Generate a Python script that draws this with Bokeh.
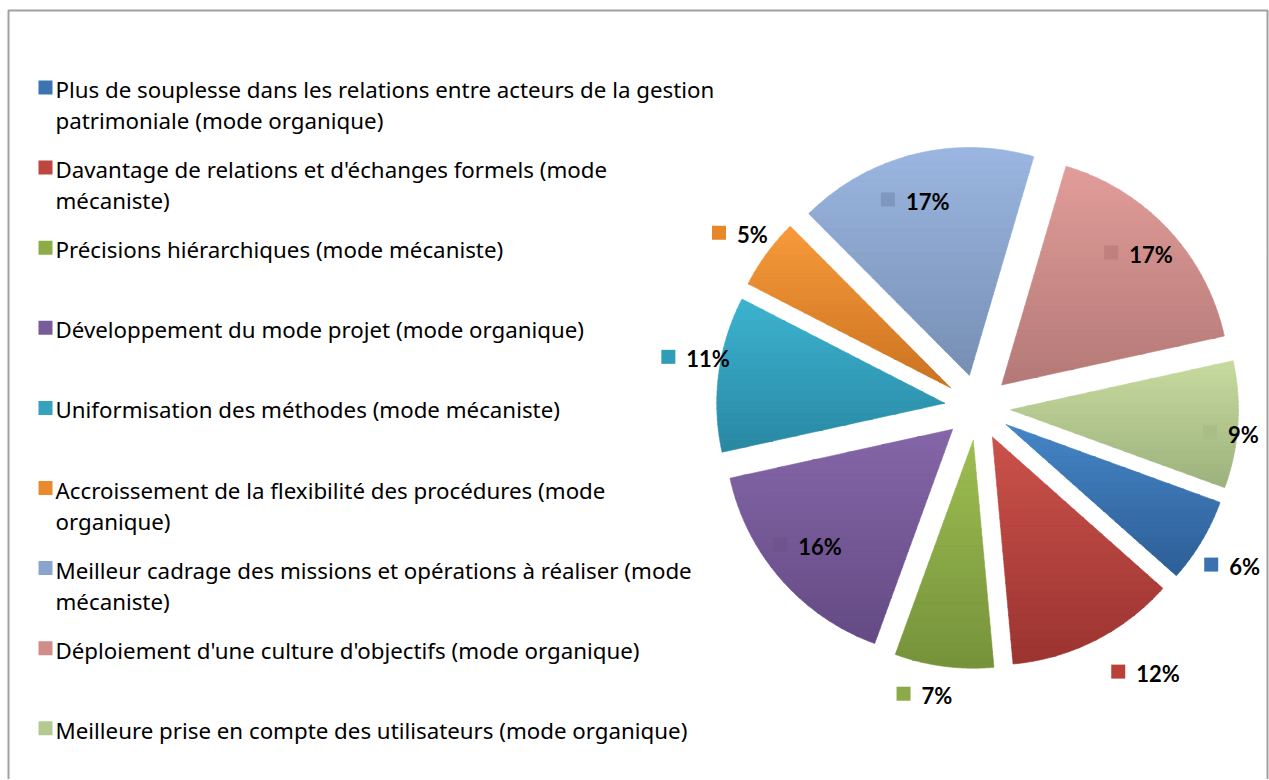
import math
from bokeh.plotting import figure
from bokeh.models import Range1d
from bokeh.core.properties import value
from bokeh.embed import file_html
from bokeh.resources import INLINE

# ---------------- data ----------------
categories = [
    "Plus de souplesse dans les relations entre acteurs de la gestion\npatrimoniale (mode organique)",
    "Davantage de relations et d'échanges formels (mode\nmécaniste)",
    "Précisions hiérarchiques (mode mécaniste)",
    "Développement du mode projet (mode organique)",
    "Uniformisation des méthodes (mode mécaniste)",
    "Accroissement de la flexibilité des procédures (mode\norganique)",
    "Meilleur cadrage des missions et opérations à réaliser (mode\nmécaniste)",
    "Déploiement d'une culture d'objectifs (mode organique)",
    "Meilleure prise en compte des utilisateurs (mode organique)",
]
values = [6, 12, 7, 16, 11, 5, 17, 17, 9]

# ---------------- styles ----------------
top_colors = ["#4585c6", "#cb524b", "#9ebe52", "#8567a9", "#3cb3d0",
              "#f89a3b", "#9bb6e1", "#e19d99", "#c7db9f"]
bottom_colors = ["#2d5e96", "#9b3330", "#75923a", "#644a84", "#2988a3",
                 "#cb7321", "#778fb4", "#b47977", "#9db17d"]
legend_colors = ["#3c74b2", "#bd4640", "#8dac48", "#785b99", "#35a2bf",
                 "#e98a2e", "#8aa4cd", "#cf8c89", "#b4c98f"]
marker_colors = ["#3a72b0", "#b94039", "#8daa48", "#6e548e", "#2f9cb8",
                 "#e6882a", "#7f97bd", "#bf807e", "#a9bd86"]

W, H = 1269, 779
def dx(x):  # page x -> data x
    return x
def dy(y):  # page y -> data y
    return H - y

CX, CY = dx(977), dy(407)
R = 228
EXPLODE = 33
FIRST_BEARING = 110.0
BANDS = 28
label_dist = [300, 314, 292, 219, 286, 294, 216, 223, 255]
label_rot = [1, -5.6, 3, 2, 2.6, 0, -2.5, -0.7, 2]


def hex_to_rgb(h):
    h = h.lstrip("#")
    return tuple(int(h[k:k + 2], 16) for k in (0, 2, 4))


def mix(c1, c2, t):
    a, b = hex_to_rgb(c1), hex_to_rgb(c2)
    return "#%02x%02x%02x" % tuple(int(round(a[k] + (b[k] - a[k]) * t)) for k in range(3))


def clip(poly, y0, above):
    out = []
    n = len(poly)
    for k in range(n):
        cx_, cy_ = poly[k]
        px_, py_ = poly[k - 1]
        cin = cy_ >= y0 if above else cy_ <= y0
        pin = py_ >= y0 if above else py_ <= y0
        if cin:
            if not pin:
                t = (y0 - py_) / (cy_ - py_)
                out.append((px_ + t * (cx_ - px_), y0))
            out.append((cx_, cy_))
        elif pin:
            t = (y0 - py_) / (cy_ - py_)
            out.append((px_ + t * (cx_ - px_), y0))
    return out


p = figure(width=W, height=H, output_backend="svg", toolbar_location=None,
           x_range=Range1d(0, W), y_range=Range1d(0, H), min_border=0)
p.axis.visible = False
p.grid.visible = False
p.outline_line_color = None
p.background_fill_color = "white"
p.border_fill_color = "white"

# frame border (top, left, right)
p.line([dx(8), dx(8), dx(1267), dx(1267)], [0, dy(10), dy(10), 0],
       line_color="#a0a0a0", line_width=2)

total = float(sum(values))
cum = 0.0
for i, v in enumerate(values):
    b1 = FIRST_BEARING + cum / total * 360.0
    b2 = b1 + v / total * 360.0
    bm = (b1 + b2) / 2.0
    cum += v
    ux, uy = math.sin(math.radians(bm)), math.cos(math.radians(bm))
    tx, ty = CX + EXPLODE * ux, CY + EXPLODE * uy
    # slice outline polygon (through the data angles)
    poly = [(tx, ty)]
    steps = 90
    for k in range(steps + 1):
        b = math.radians(b1 + (b2 - b1) * k / steps)
        poly.append((tx + R * math.sin(b), ty + R * math.cos(b)))
    ymin = min(q[1] for q in poly)
    ymax = max(q[1] for q in poly)
    xs, ys, fills = [], [], []
    for k in range(BANDS):
        ya = ymax - (ymax - ymin) * k / BANDS
        yb = ymax - (ymax - ymin) * (k + 1) / BANDS
        band = clip(clip(poly, ya + 0.3, False), yb - 0.3, True)
        if len(band) < 3:
            continue
        xs.append([q[0] for q in band])
        ys.append([q[1] for q in band])
        fills.append(mix(top_colors[i], bottom_colors[i], (k + 0.5) / BANDS))
    p.patches(xs=xs, ys=ys, fill_color=fills, line_color=fills, line_width=0.6)

    # data label
    lb = math.radians(bm + label_rot[i])
    gx = CX + label_dist[i] * math.sin(lb)
    gy = CY + label_dist[i] * math.cos(lb)
    txt = "%d%%" % round(v / total * 100)
    tw = 12.5 * (len(txt) - 1) + 19
    gw = 14 + 11 + tw
    left = gx - gw / 2
    p.rect(x=[left + 7], y=[gy + 1], width=14, height=14,
           fill_color=marker_colors[i], line_color=None)
    p.text(x=[left + 25], y=[gy - 1], text=[txt], text_font=value("Lato"),
           text_font_style="bold", text_font_size="22px", text_color="#000000",
           text_baseline="middle", text_align="left")

# legend
for i, cat in enumerate(categories):
    row = 99 + 80.1 * i
    p.rect(x=[dx(45)], y=[dy(row - 12)], width=14, height=14,
           fill_color=legend_colors[i], line_color=None)
    for j, line in enumerate(cat.split("\n")):
        p.text(x=[dx(55)], y=[dy(row - 10 + 31 * j)], text=[line],
               text_font=value("Noto Sans"), text_font_size="22.3px",
               text_color="#000000", text_baseline="alphabetic", text_align="left")

open("out.html", "w").write(file_html(p, INLINE))
